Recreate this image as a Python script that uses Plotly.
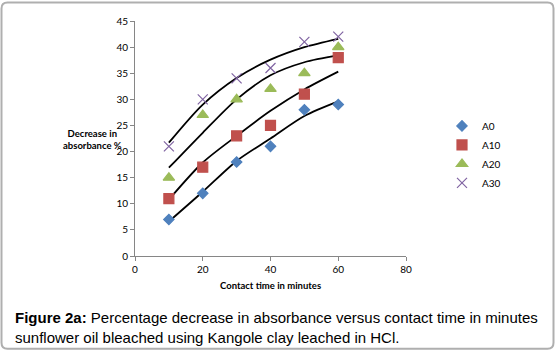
import plotly.graph_objects as go

time_min = [10, 20, 30, 40, 50, 60]
a0 = [7, 12, 18, 21, 28, 29]
a10 = [11, 17, 23, 25, 31, 38]
a20 = [15, 27, 30, 32, 35, 40]
a30 = [21, 30, 34, 36, 41, 42]
# trendline values at the same contact times
trend_a0 = [6.6, 12.3, 18.2, 22.5, 26.8, 29.6]
trend_a10 = [10.8, 17.9, 23.0, 27.8, 31.9, 35.3]
trend_a20 = [16.9, 23.6, 30.0, 34.6, 37.1, 38.4]
trend_a30 = [21.7, 29.0, 34.1, 37.6, 40.0, 41.6]
series_names = ["A0", "A10", "A20", "A30"]
x_ticks = [0, 20, 40, 60, 80]
y_ticks = [0, 5, 10, 15, 20, 25, 30, 35, 40, 45]

series = [a0, a10, a20, a30]
trends = [trend_a0, trend_a10, trend_a20, trend_a30]
symbols = ["diamond", "square", "triangle-up", "x-thin"]
colors = ["#4F81BD", "#C0504D", "#9BBB59", "#8064A2"]
sizes = [8, 10, 10, 10]

fig = go.Figure()
for tr in trends:
    fig.add_trace(go.Scatter(x=time_min, y=tr, mode="lines",
                             line=dict(color="black", width=1.8, shape="spline", smoothing=0.8),
                             showlegend=False, hoverinfo="skip"))
for name, ys, sym, col, sz in zip(series_names, series, symbols, colors, sizes):
    fig.add_trace(go.Scatter(x=time_min, y=ys, mode="markers", name=name,
                             marker=dict(symbol=sym, color=col, size=sz,
                                         line=dict(color=col, width=1.2))))

L, R, T, B = 135, 150, 20.5, 95.3
W, H = 556, 351
pw, ph = W - L - R, H - T - B

def px(x):
    return (x - L) / pw

def py(y):
    return (H - B - y) / ph

fig.update_layout(
    width=W, height=H,
    margin=dict(l=L, r=R, t=T, b=B),
    paper_bgcolor="white", plot_bgcolor="white",
    font=dict(family="Lato, Open Sans, sans-serif", size=10, color="black"),
    legend=dict(x=px(442), y=py(111), xanchor="left", yanchor="top",
                font=dict(size=10, family="Lato, sans-serif"),
                bgcolor="rgba(0,0,0,0)", itemwidth=30, tracegroupgap=0),
    xaxis=dict(range=[0, 80], tickvals=x_ticks, showgrid=False, zeroline=False,
               showline=True, linecolor="#868686", linewidth=1,
               ticks="outside", ticklen=4, tickcolor="#868686"),
    yaxis=dict(range=[0, 45], tickvals=y_ticks, showgrid=False, zeroline=False,
               showline=True, linecolor="#868686", linewidth=1,
               ticks="outside", ticklen=4, tickcolor="#868686"),
    showlegend=True,
)

fig.add_annotation(text="<b>Decrease in<br>absorbance %</b>", xref="paper", yref="paper",
                   x=px(92), y=py(139), xanchor="center", yanchor="middle",
                   showarrow=False, font=dict(size=9.5, family="Lato, sans-serif"))
fig.add_annotation(text="<b>Contact time in minutes</b>", xref="paper", yref="paper",
                   x=px(270), y=py(285), xanchor="center", yanchor="middle",
                   showarrow=False, font=dict(size=9.5, family="Lato, sans-serif"))
fig.add_annotation(text="<b>Figure 2a:</b> Percentage decrease in absorbance versus contact time in minutes<br>sunflower oil bleached using Kangole clay leached in HCl.",
                   xref="paper", yref="paper", x=px(13), y=py(327), xanchor="left",
                   yanchor="middle", align="left", showarrow=False,
                   font=dict(size=15, family="Liberation Sans, Arial, sans-serif"))

# rounded border
x0, x1, y0, y1 = px(1.5), px(553.5), py(348.5), py(2)
rx, ry = 6 / pw, 6 / ph
path = (f"M {x0+rx},{y1} L {x1-rx},{y1} Q {x1},{y1} {x1},{y1-ry} "
        f"L {x1},{y0+ry} Q {x1},{y0} {x1-rx},{y0} L {x0+rx},{y0} "
        f"Q {x0},{y0} {x0},{y0+ry} L {x0},{y1-ry} Q {x0},{y1} {x0+rx},{y1} Z")
fig.add_shape(type="path", path=path, xref="paper", yref="paper",
              line=dict(color="#AFAFAF", width=2), layer="below")

fig.write_html("out.html", config={"displayModeBar": False},
               post_script="document.body.style.margin='0';document.body.style.overflow='hidden';")
